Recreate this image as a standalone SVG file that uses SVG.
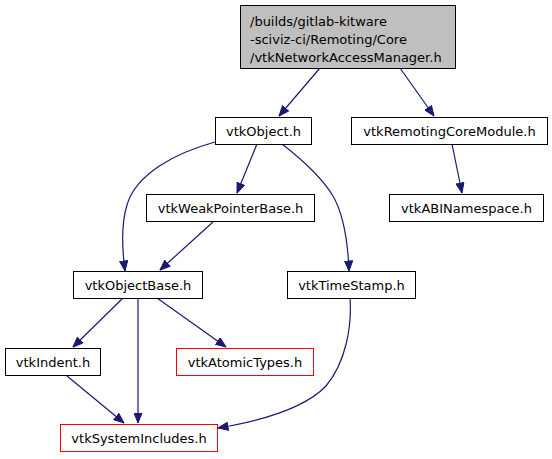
<svg xmlns="http://www.w3.org/2000/svg" width="552" height="459" viewBox="0 0 552 459">
<style>
.n rect{fill:#fff;stroke:#000;stroke-width:1}
.r rect{fill:#fff;stroke:#ff0000;stroke-width:1}
.m rect{fill:#bfbfbf;stroke:#000;stroke-width:1}
text{font-family:"DejaVu Sans",sans-serif;font-size:13px;fill:#000}
.c{text-anchor:middle}
#edges path{fill:none;stroke:#191970;stroke-width:1.2}
</style>
<defs>
<marker id="a" viewBox="0 0 11 9" refX="10.5" refY="4.5" markerWidth="11" markerHeight="9" markerUnits="userSpaceOnUse" orient="auto">
<path d="M0.5,0.5 L10.5,4.5 L0.5,8.5 Z" fill="#191970" stroke="#191970"/>
</marker>
</defs>
<rect width="552" height="459" fill="#fff"/>
<g id="edges">
<path d="M320,68 L279,116" marker-end="url(#a)"/>
<path d="M400,68 L434,116" marker-end="url(#a)"/>
<path d="M257,144 L237,193" marker-end="url(#a)"/>
<path d="M215,142 C175,153 136,174 127,205 C121,224 122,248 125,271" marker-end="url(#a)"/>
<path d="M282,144 C300,158 321,176 333,196 C345,217 348,245 349,271" marker-end="url(#a)"/>
<path d="M213,222 L160,270" marker-end="url(#a)"/>
<path d="M452,144 L462,193" marker-end="url(#a)"/>
<path d="M123,298 L73,347" marker-end="url(#a)"/>
<path d="M138,298 L138,423" marker-end="url(#a)"/>
<path d="M157,298 L226,347" marker-end="url(#a)"/>
<path d="M67,376 L124,423" marker-end="url(#a)"/>
<path d="M350,298 C352,326 346,362 326,386 C304,409 260,421 218,428" marker-end="url(#a)"/>
</g>
<g id="main" class="m"><rect x="240.5" y="5.5" width="215" height="63"/>
<text x="250" y="26">/builds/gitlab-kitware</text>
<text x="250" y="44">-sciviz-ci/Remoting/Core</text>
<text x="250" y="62">/vtkNetworkAccessManager.h</text></g>
<g id="vtkObject" class="n"><rect x="215.5" y="117.5" width="96" height="27"/><text class="c" x="263.5" y="135.5">vtkObject.h</text></g>
<g id="vtkRemotingCoreModule" class="n"><rect x="351.5" y="117.5" width="196" height="27"/><text class="c" x="449.5" y="135.5">vtkRemotingCoreModule.h</text></g>
<g id="vtkWeakPointerBase" class="n"><rect x="146.5" y="194.5" width="168" height="27"/><text class="c" x="230.5" y="212.5">vtkWeakPointerBase.h</text></g>
<g id="vtkABINamespace" class="n"><rect x="389.5" y="194.5" width="154" height="27"/><text class="c" x="466.5" y="212.5">vtkABINamespace.h</text></g>
<g id="vtkObjectBase" class="n"><rect x="73.5" y="271.5" width="129" height="27"/><text class="c" x="138" y="289.5">vtkObjectBase.h</text></g>
<g id="vtkTimeStamp" class="n"><rect x="287.5" y="271.5" width="128" height="27"/><text class="c" x="351.5" y="289.5">vtkTimeStamp.h</text></g>
<g id="vtkIndent" class="n"><rect x="5.5" y="348.5" width="95" height="27"/><text class="c" x="53" y="366.5">vtkIndent.h</text></g>
<g id="vtkAtomicTypes" class="r"><rect x="176.5" y="348.5" width="137" height="27"/><text class="c" x="245" y="366.5">vtkAtomicTypes.h</text></g>
<g id="vtkSystemIncludes" class="r"><rect x="60.5" y="424.5" width="157" height="27"/><text class="c" x="139" y="442.5">vtkSystemIncludes.h</text></g>
</svg>
